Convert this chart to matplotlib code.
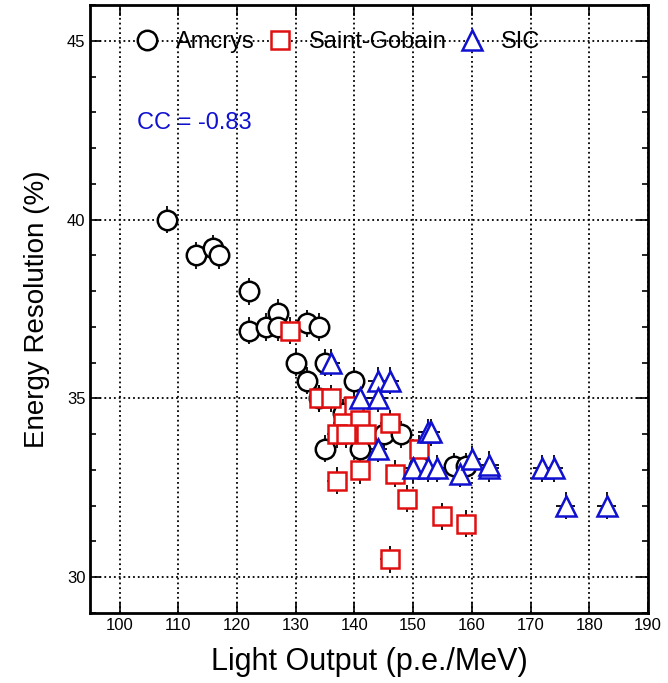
import matplotlib.pyplot as plt
from matplotlib.ticker import MultipleLocator

plt.rcParams['font.family'] = ['Liberation Sans', 'DejaVu Sans']

# Amcrys
amcrys_x = [108, 113, 116, 117, 122, 122, 125, 127, 127, 132, 134, 130, 135, 132, 140,
            134, 138, 145, 148, 135, 141, 151, 157, 159]
amcrys_y = [40.0, 39.0, 39.2, 39.0, 38.0, 36.9, 37.0, 37.4, 37.0, 37.1, 37.0, 36.0, 36.0, 35.5, 35.5,
            35.0, 34.6, 34.0, 34.0, 33.6, 33.6, 33.1, 33.1, 33.1]

# Saint-Gobain
sg_x = [129, 134, 136, 140, 138, 141, 146, 137, 138.5, 142, 151, 141, 147, 137, 149, 155, 159, 146]
sg_y = [36.9, 35.0, 35.0, 34.8, 34.3, 34.4, 34.3, 34.0, 34.0, 34.0, 33.6, 33.0, 32.9, 32.7, 32.2,
        31.7, 31.5, 30.5]

# SIC
sic_x = [136, 144, 146, 141, 144, 152.5, 153, 144, 150, 152.5, 154, 158, 160, 163, 163, 172, 174, 176, 183]
sic_y = [36.0, 35.5, 35.5, 35.0, 35.0, 34.05, 34.05, 33.6, 33.05, 33.05, 33.05, 32.9, 33.3, 33.05,
         33.15, 33.05, 33.05, 32.0, 32.0]

fig = plt.figure(figsize=(6.68, 6.83), dpi=100)
ax = fig.add_axes([0.135, 0.1025, 0.835, 0.89])

series = [
    (amcrys_x, amcrys_y, 'o', 'black', 'Amcrys', 14),
    (sg_x, sg_y, 's', '#e01010', 'Saint-Gobain', 13),
    (sic_x, sic_y, '^', '#1010d0', 'SIC', 14),
]
for xs, ys, m, c, lab, ms in series:
    ax.errorbar(xs, ys, yerr=0.38, xerr=1.6, fmt='none', ecolor='black', elinewidth=1.3, zorder=2)
    ax.plot(xs, ys, linestyle='none', marker=m, markersize=ms, markerfacecolor='white',
            markeredgecolor=c, markeredgewidth=1.8, label=lab, zorder=3)

ax.set_xlim(95, 190)
ax.set_ylim(29, 46)
ax.xaxis.set_major_locator(MultipleLocator(10))
ax.yaxis.set_major_locator(MultipleLocator(5))
ax.yaxis.set_minor_locator(MultipleLocator(1))
ax.tick_params(which='both', direction='in', top=True, right=True, labelsize=12, width=1.2)
ax.tick_params(which='major', length=8)
ax.tick_params(which='minor', length=4)
ax.grid(True, which='major', linestyle=':', color='black', linewidth=1.3)
for s in ax.spines.values():
    s.set_linewidth(2)

ax.set_xlabel('Light Output (p.e./MeV)', fontsize=22, labelpad=10)
ax.set_ylabel('Energy Resolution (%)', fontsize=20, labelpad=12)

ax.text(0.084, 0.806, 'CC = -0.83', transform=ax.transAxes, fontsize=17, color='#1010d0',
        va='center', ha='left')

ax.legend(loc='center left', bbox_to_anchor=(0.06, 0.939), ncol=3, frameon=False, fontsize=17,
          handlelength=1.2, handletextpad=0.6, columnspacing=0.5, borderaxespad=0)

plt.savefig('out.png', dpi=100)
